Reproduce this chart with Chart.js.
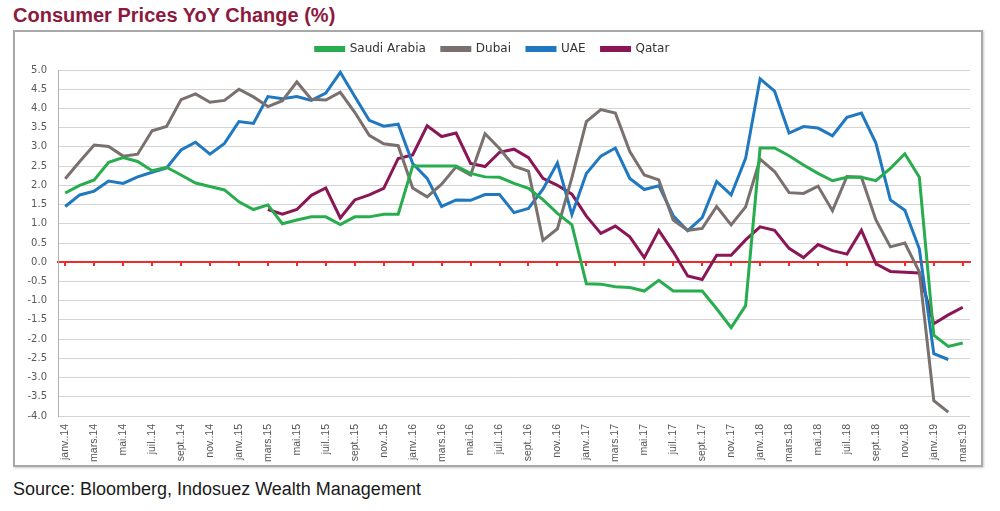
<!DOCTYPE html>
<html>
<head>
<meta charset="utf-8">
<script src="https://cdn.jsdelivr.net/npm/chart.js@4.4.1/dist/chart.umd.min.js"></script>
<style>
  body { margin: 0; background: #fff; width: 1000px; height: 511px; position: relative; overflow: hidden; }
  #title { position: absolute; left: 13px; top: 4px; font: bold 20px "Liberation Sans", Arial, sans-serif; color: #8c1a3e; }
  #frame { position: absolute; left: 13px; top: 30px; width: 966px; height: 433px; border: 2px solid #a8a8a8; box-shadow: 1px 1px 2px #ccc; }
  #source { position: absolute; left: 13px; top: 479px; font: 18px "Liberation Sans", Arial, sans-serif; color: #1a1a1a; }
</style>
</head>
<body>
<div id="title">Consumer Prices YoY Change (%)</div>
<div id="frame"><canvas id="cpiChart" width="966" height="433"></canvas></div>
<div id="source">Source: Bloomberg, Indosuez Wealth Management</div>
<script>
// Months janv.14 .. mars.19 (French Excel style labels)
const months = ['janv.', 'févr.', 'mars', 'avr.', 'mai', 'juin', 'juil.', 'août', 'sept.', 'oct.', 'nov.', 'déc.'];
const labels = [];
for (let y = 14; y <= 19; y++) {
  months.forEach((m, k) => {
    if (y === 19 && k > 2) return;
    labels.push(m + '.' + y);
  });
}

const saudi = [1.8, 2.0, 2.14, 2.6, 2.72, 2.62, 2.38, 2.47, 2.27, 2.06, 1.97, 1.88,
  1.57, 1.37, 1.49, 1.0, 1.1, 1.18, 1.18, 0.98, 1.18, 1.18, 1.25, 1.25,
  2.5, 2.5, 2.5, 2.5, 2.31, 2.22, 2.21, 2.05, 1.92, 1.63, 1.27, 0.97,
  -0.56, -0.57, -0.64, -0.66, -0.75, -0.47, -0.75, -0.75, -0.75, -1.21, -1.7, -1.13,
  2.97, 2.97, 2.77, 2.53, 2.31, 2.12, 2.21, 2.21, 2.12, 2.44, 2.82, 2.21,
  -1.9, -2.19, -2.1];
const dubai = [2.17, 2.62, 3.05, 3.01, 2.76, 2.81, 3.42, 3.53, 4.23, 4.38, 4.16, 4.21,
  4.5, 4.3, 4.05, 4.2, 4.69, 4.24, 4.22, 4.42, 3.9, 3.3, 3.08, 3.03,
  1.93, 1.7, 2.03, 2.48, 2.27, 3.34, 2.96, 2.5, 2.37, 0.57, 0.87, 2.2,
  3.66, 3.97, 3.88, 2.88, 2.27, 2.14, 1.1, 0.83, 0.88, 1.45, 0.97, 1.44,
  2.68, 2.36, 1.81, 1.79, 1.98, 1.34, 2.23, 2.21, 1.1, 0.4, 0.5, -0.25,
  -3.6, -3.9, null];
const uae = [1.45, 1.75, 1.85, 2.11, 2.05, 2.22, 2.34, 2.45, 2.92, 3.12, 2.81, 3.09,
  3.66, 3.61, 4.31, 4.25, 4.31, 4.21, 4.4, 4.94, 4.31, 3.69, 3.54, 3.59,
  2.57, 2.18, 1.45, 1.62, 1.61, 1.76, 1.76, 1.29, 1.4, 1.9, 2.58, 1.24,
  2.31, 2.76, 2.97, 2.18, 1.89, 1.99, 1.21, 0.82, 1.16, 2.1, 1.75, 2.7,
  4.77, 4.45, 3.36, 3.53, 3.49, 3.29, 3.77, 3.88, 3.1, 1.62, 1.35, 0.35,
  -2.38, -2.53, null];
const qatar = [null, null, null, null, null, null, null, null, null, null, null, null,
  null, null, 1.37, 1.25, 1.37, 1.74, 1.93, 1.15, 1.62, 1.75, 1.92, 2.7,
  2.79, 3.55, 3.27, 3.36, 2.57, 2.49, 2.86, 2.94, 2.72, 2.18, 2.0, 1.77,
  1.2, 0.75, 0.94, 0.66, 0.12, 0.83, 0.27, -0.36, -0.45, 0.18, 0.18, 0.58,
  0.92, 0.83, 0.36, 0.12, 0.46, 0.3, 0.21, 0.83, -0.04, -0.24, -0.26, -0.28,
  -1.6, -1.37, -1.17];

const yMin = -4, yMax = 5, yStep = 0.5;

const line = (label, data, color) => ({
  label, data,
  borderColor: color, backgroundColor: color,
  borderWidth: 3, pointRadius: 0, tension: 0, spanGaps: false,
});

// legend sits high, plot starts a bit lower
const legendHeight = {
  id: 'legendHeight',
  beforeInit(chart) {
    const fit = chart.legend.fit;
    chart.legend.fit = function () {
      fit.bind(chart.legend)();
      this.height = 43;
    };
  }
};

const ctx = document.getElementById('cpiChart').getContext('2d');
new Chart(ctx, {
  type: 'line',
  data: {
    labels: labels,
    datasets: [
      line('Saudi Arabia', saudi, '#27ad4d'),
      line('Dubai', dubai, '#7a706e'),
      line('UAE', uae, '#1f78c0'),
      line('Qatar', qatar, '#8b1656'),
    ]
  },
  plugins: [legendHeight],
  options: {
    responsive: false,
    animation: false,
    layout: { padding: { left: 0, right: 11, top: -5, bottom: 0 } },
    plugins: {
      tooltip: { enabled: false },
      legend: {
        position: 'top',
        labels: {
          boxWidth: 28, boxHeight: 3, padding: 16,
          color: '#333',
          font: { family: '"DejaVu Sans", Verdana, sans-serif', size: 12 },
        }
      }
    },
    scales: {
      x: {
        offset: true,
        grid: { display: false },
        border: { display: false },
        ticks: {
          autoSkip: false, maxRotation: 90, minRotation: 90,
          color: '#555', padding: 0,
          font: { family: '"Liberation Sans Narrow", "Arial Narrow", sans-serif', size: 10.5 },
          callback: (v, i) => (i % 2 === 0 ? labels[i] : ''),
        },
        afterFit: (s) => { s.height = 49; },
      },
      // red category axis crossing at zero, with tick marks every two months
      zero: {
        type: 'category',
        axis: 'x',
        position: { y: 0 },
        offset: true,
        ticks: { display: false },
        grid: {
          drawOnChartArea: false, drawTicks: true, tickLength: 3, lineWidth: 2,
          color: (c) => (c.index % 2 === 0 ? '#ee2a2a' : 'rgba(0,0,0,0)'),
        },
        border: { color: '#ee2a2a', width: 2 },
      },
      y: {
        min: yMin, max: yMax,
        ticks: {
          stepSize: yStep, color: '#595959', padding: 11,
          font: { family: '"DejaVu Sans", Verdana, sans-serif', size: 10 },
          callback: (v) => v.toFixed(1),
        },
        grid: { color: '#d4d4d4', drawTicks: false },
        border: { color: '#b0b0b0' },
        afterFit: (s) => { s.width = 43; },
      }
    }
  }
});
</script>
</body>
</html>
